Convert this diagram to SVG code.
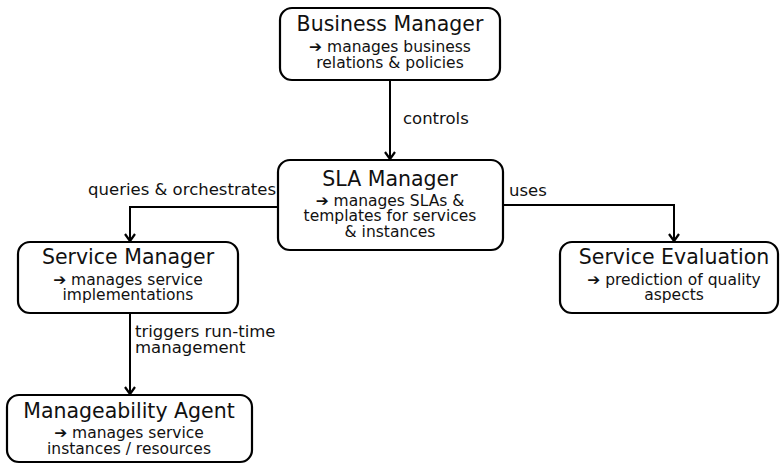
<svg xmlns="http://www.w3.org/2000/svg" width="781" height="466" viewBox="0 0 781 466">
<style>
.box{fill:#fff;stroke:#000;stroke-width:2.2}
.t{font-family:"DejaVu Sans",Verdana,sans-serif;fill:#111;text-anchor:middle}
.h{font-size:20.5px}
.s{font-size:15.5px}
.a{font-weight:bold}
.l{font-family:"DejaVu Sans",Verdana,sans-serif;fill:#111;font-size:16.5px}
.c{fill:none;stroke:#000;stroke-width:2}
</style>
<defs>
<marker id="ar" markerWidth="12" markerHeight="12" refX="6" refY="10" orient="0" markerUnits="userSpaceOnUse" viewBox="0 0 12 12">
<polyline points="1,3 6,10 11,3" fill="none" stroke="#000" stroke-width="2.2"/>
</marker>
</defs>
<g id="connectors">
<path class="c" d="M390,80 V159" marker-end="url(#ar)"/>
<path class="c" d="M278,207 H130 V241" marker-end="url(#ar)"/>
<path class="c" d="M503,205 H674 V241" marker-end="url(#ar)"/>
<path class="c" d="M130,313 V394" marker-end="url(#ar)"/>
<text class="l" x="403" y="124">controls</text>
<text class="l" x="276" y="195" text-anchor="end">queries &amp; orchestrates</text>
<text class="l" x="509" y="196">uses</text>
<text class="l" x="135" y="337">triggers run-time</text>
<text class="l" x="135" y="353">management</text>
</g>
<g id="business-manager">
<rect class="box" x="280" y="8" width="220" height="72" rx="12"/>
<text class="t h" x="390" y="31">Business Manager</text>
<text class="t s" x="390" y="52"><tspan class="a">➔</tspan> manages business</text>
<text class="t s" x="390" y="68">relations &amp; policies</text>
</g>
<g id="sla-manager">
<rect class="box" x="278" y="160" width="225" height="90" rx="12"/>
<text class="t h" x="390" y="186">SLA Manager</text>
<text class="t s" x="390" y="206"><tspan class="a">➔</tspan> manages SLAs &amp;</text>
<text class="t s" x="390" y="221">templates for services</text>
<text class="t s" x="390" y="237">&amp; instances</text>
</g>
<g id="service-manager">
<rect class="box" x="18" y="242" width="220" height="71" rx="12"/>
<text class="t h" x="128" y="264">Service Manager</text>
<text class="t s" x="128" y="285"><tspan class="a">➔</tspan> manages service</text>
<text class="t s" x="128" y="300">implementations</text>
</g>
<g id="service-evaluation">
<rect class="box" x="560" y="242" width="218" height="71" rx="12"/>
<text class="t h" x="674" y="264">Service Evaluation</text>
<text class="t s" x="674" y="285"><tspan class="a">➔</tspan> prediction of quality</text>
<text class="t s" x="674" y="300">aspects</text>
</g>
<g id="manageability-agent">
<rect class="box" x="7" y="395" width="245" height="67" rx="12"/>
<text class="t h" x="129" y="418">Manageability Agent</text>
<text class="t s" x="129" y="438"><tspan class="a">➔</tspan> manages service</text>
<text class="t s" x="129" y="454">instances / resources</text>
</g>
</svg>
